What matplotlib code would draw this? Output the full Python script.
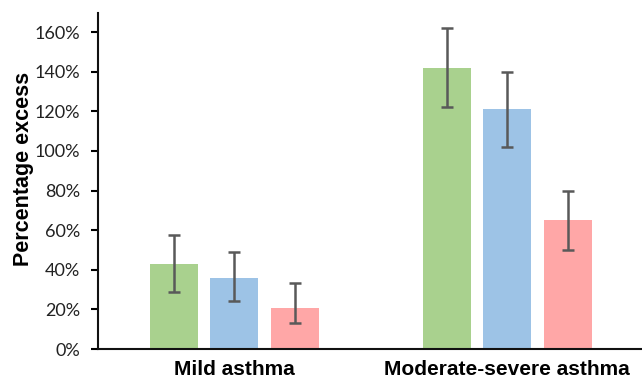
import numpy as np
import matplotlib.pyplot as plt
from matplotlib.ticker import FuncFormatter

groups = ["Mild asthma", "Moderate-severe asthma"]
green_vals = [43, 142]
green_lo = [29, 122]
green_hi = [57.5, 162]
blue_vals = [36, 121]
blue_lo = [24, 102]
blue_hi = [49, 140]
pink_vals = [20.5, 65]
pink_lo = [13, 50]
pink_hi = [33.5, 80]
yticks = [0, 20, 40, 60, 80, 100, 120, 140, 160]

colors = ['#a9d18e', '#9dc3e6', '#ffa7a7']

fig = plt.figure(figsize=(6.42, 3.82), dpi=100)
ax = fig.add_axes([98/642, 33/382, 1 - 98/642, 1 - 33/382 - 13/382])

centers = np.array([0, 4.5])
series = [(green_vals, green_lo, green_hi),
          (blue_vals, blue_lo, blue_hi),
          (pink_vals, pink_lo, pink_hi)]
for k, (v, lo, hi) in enumerate(series):
    v = np.array(v); lo = np.array(lo); hi = np.array(hi)
    x = centers + (k - 1)
    ax.bar(x, v, width=0.79, color=colors[k], zorder=2)
    ax.errorbar(x, v, yerr=[v - lo, hi - v], fmt='none', ecolor='#595959',
                elinewidth=1.8, capsize=4.5, capthick=1.8, zorder=3)

ax.set_xlim(-2.25, 6.72)
ax.set_ylim(0, 169.6)
ax.set_yticks(yticks)
ax.yaxis.set_major_formatter(FuncFormatter(lambda v, p: f"{int(v)}%"))
ax.set_xticks(centers)
ax.set_xticklabels(groups, fontsize=15, fontweight='bold', family='Liberation Sans')
ax.tick_params(axis='x', length=0, pad=8)
ax.tick_params(axis='y', length=5, width=1.5, labelsize=13, pad=8,
               labelcolor='#222222')
for lab in ax.get_yticklabels():
    lab.set_family('Lato')
ax.set_ylabel("Percentage excess", fontsize=15.5, fontweight='bold',
              family='Liberation Sans')
ax.yaxis.set_label_coords(-0.117, 0.536)

for s in ['top', 'right']:
    ax.spines[s].set_visible(False)
for s in ['left', 'bottom']:
    ax.spines[s].set_linewidth(1.5)
    ax.spines[s].set_color('#111111')

fig.savefig("out.png", dpi=100)
